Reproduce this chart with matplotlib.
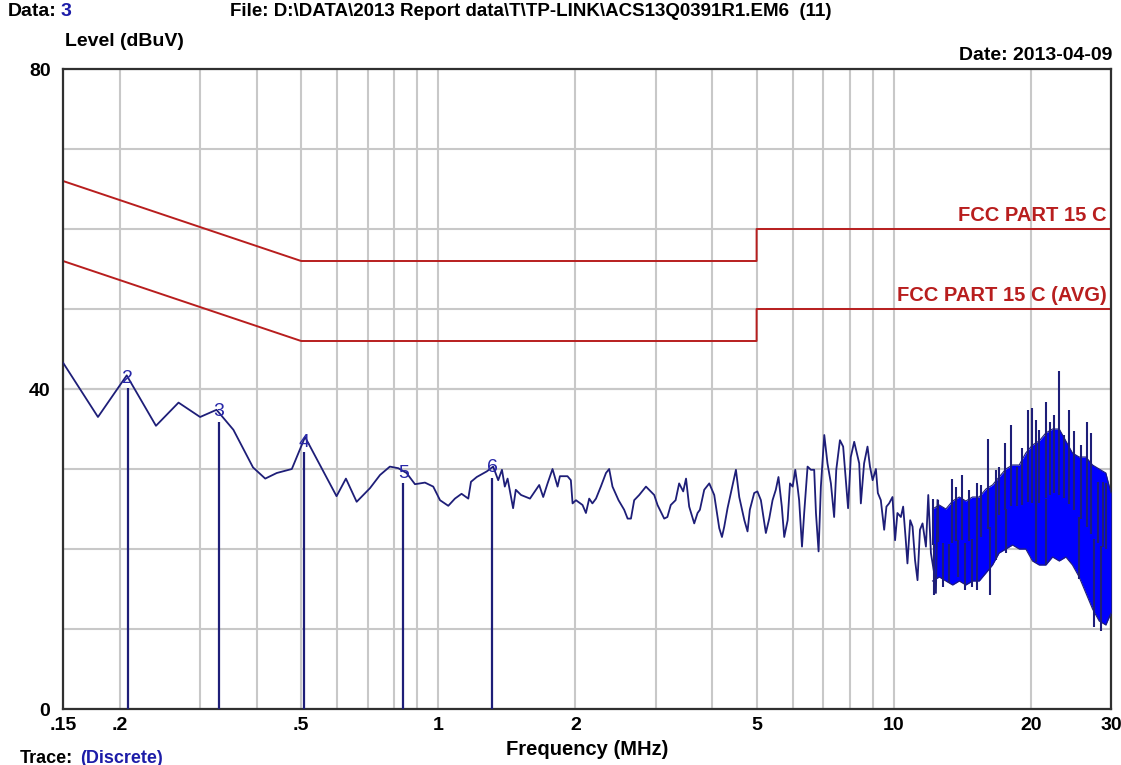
import numpy as np
import matplotlib
matplotlib.use('Agg')
import matplotlib.pyplot as plt

W, H = 1121, 765
plt.rcParams['font.family'] = ['Liberation Sans', 'DejaVu Sans']

# measured trace, 0.15 - 12.5 MHz (MHz, dBuV)
trace_freq = [0.150, 0.179, 0.207, 0.240, 0.269, 0.300, 0.326, 0.355, 0.392, 0.417,
              0.442, 0.477, 0.510, 0.598, 0.627, 0.662, 0.708, 0.745, 0.783, 0.817,
              0.852, 0.889, 0.935, 0.975, 1.009, 1.052, 1.088, 1.125, 1.164, 1.180,
              1.215, 1.278, 1.320, 1.354, 1.38, 1.40, 1.42, 1.46, 1.48, 1.52,
              1.59, 1.666, 1.70, 1.738, 1.782, 1.828, 1.85, 1.922, 1.955, 1.972,
              2.006, 2.074, 2.11, 2.145, 2.18, 2.22, 2.275, 2.335, 2.373, 2.413,
              2.488, 2.56, 2.605, 2.649, 2.693, 2.762, 2.858, 2.98, 3.03, 3.134,
              3.185, 3.24, 3.32, 3.38, 3.45, 3.50, 3.556, 3.648, 3.71, 3.754,
              3.837, 3.936, 4.036, 4.14, 4.197, 4.246, 4.317, 4.39, 4.504, 4.58,
              4.70, 4.776, 4.832, 4.94, 5.02, 5.11, 5.24, 5.33, 5.42, 5.51,
              5.585, 5.68, 5.75, 5.85, 5.92, 6.0, 6.08, 6.15, 6.20, 6.29,
              6.36, 6.47, 6.58, 6.69, 6.75, 6.84, 6.92, 7.04, 7.155, 7.28,
              7.40, 7.48, 7.62, 7.745, 7.85, 7.94, 8.05, 8.19, 8.30, 8.40,
              8.47, 8.61, 8.76, 8.87, 8.99, 9.14, 9.23, 9.37, 9.53, 9.64,
              9.77, 9.94, 10.07, 10.19, 10.37, 10.49, 10.63, 10.72, 10.87, 11.0,
              11.14, 11.28, 11.42, 11.57, 11.77, 11.91, 12.07, 12.27, 12.38, 12.48]
trace_level = [43.3, 36.5, 41.7, 35.4, 38.3, 36.5, 37.4, 34.9, 30.2, 28.8,
               29.5, 30.0, 34.0, 26.6, 28.8, 25.9, 27.6, 29.25, 30.3, 30.1,
               29.5, 28.1, 28.3, 27.8, 26.1, 25.4, 26.3, 26.9, 26.3, 28.4,
               29.0, 29.7, 30.3, 28.6, 29.9, 27.8, 28.8, 25.1, 27.4, 26.75,
               26.3, 28.0, 26.5, 28.2, 30.0, 27.8, 29.1, 29.1, 28.6, 25.7,
               26.1, 25.5, 24.5, 26.3, 25.7, 26.3, 27.8, 29.5, 30.0, 27.8,
               26.1, 24.9, 23.8, 23.8, 26.1, 26.75, 27.8, 26.75, 25.5, 23.8,
               24.0, 25.5, 26.1, 28.2, 27.2, 28.8, 25.3, 23.2, 24.5, 24.9,
               27.4, 28.2, 26.75, 22.6, 21.5, 22.8, 25.1, 27.0, 29.9, 26.5,
               23.6, 22.2, 24.9, 27.0, 27.2, 26.1, 22.0, 23.8, 26.1, 27.4,
               29.0, 25.3, 21.5, 23.6, 28.2, 27.8, 29.9, 27.8, 26.1, 20.3,
               24.5, 30.3, 29.9, 29.9, 24.5, 19.7, 27.8, 34.25, 30.7, 28.2,
               24.0, 29.9, 33.6, 32.8, 28.6, 25.1, 31.5, 33.4, 32.0, 30.7,
               25.7, 30.7, 32.8, 30.3, 28.6, 30.0, 27.0, 26.1, 22.4, 25.3,
               25.7, 26.5, 21.1, 24.5, 24.0, 25.3, 21.1, 18.2, 23.6, 22.8,
               18.6, 16.1, 22.4, 23.2, 20.3, 26.75, 19.5, 17.0, 14.5, 26.1]

# dense part above 12 MHz: envelope of the band
band_freq = [12.17, 12.59, 13.02, 13.47, 13.93, 14.40, 14.90, 15.41, 15.94, 16.48,
             17.04, 17.63, 18.23, 18.86, 19.50, 20.17, 20.86, 21.58, 22.32, 23.09,
             23.88, 24.69, 25.54, 26.42, 27.33, 28.26, 29.23, 30.0]
band_top = [25.0, 25.5, 25.0, 26.0, 26.5, 26.0, 26.5, 26.5, 27.5, 28.0,
            29.0, 30.0, 30.5, 30.5, 32.0, 33.0, 33.5, 34.5, 35.0, 35.0,
            33.5, 32.0, 31.5, 31.5, 30.5, 30.0, 29.5, 27.0]
band_bot = [16.0, 16.5, 16.0, 15.5, 16.0, 15.5, 16.0, 16.0, 17.0, 18.0,
            19.5, 20.0, 20.5, 20.0, 20.0, 18.5, 18.0, 18.0, 19.0, 18.5,
            19.0, 18.0, 16.5, 14.5, 12.5, 11.0, 10.5, 12.0]
spike_up_freq = [12.17, 12.48, 13.40, 13.69, 14.09, 14.65, 15.20, 15.54, 16.12, 16.76,
                 17.04, 17.54, 18.14, 18.64, 19.12, 19.67, 20.11, 20.52, 20.86, 21.65,
                 22.03, 22.51, 23.09, 23.6, 24.29, 24.82, 25.75, 26.56, 27.10, 28.03,
                 28.74, 29.23]
spike_up_level = [26.3, 26.1, 28.8, 27.8, 29.25, 27.4, 28.2, 28.0, 33.8, 29.9,
                  30.3, 33.2, 35.5, 30.3, 32.6, 37.4, 37.6, 36.1, 34.9, 38.4,
                  35.9, 36.75, 42.2, 34.3, 37.4, 34.7, 33.0, 35.9, 34.5, 28.4,
                  28.4, 28.2]
spike_dn_freq = [12.27, 12.80, 13.24, 13.81, 14.35, 14.85, 15.20, 16.26, 16.76, 17.63,
                 20.52, 21.58, 25.54, 27.55, 28.49]
spike_dn_level = [14.25, 15.3, 15.7, 16.5, 14.9, 15.3, 14.9, 14.25, 18.6, 19.5,
                  18.4, 18.0, 16.3, 10.3, 9.7]

# FCC part 15 C limits
limit_freq = [0.15, 0.5, 5, 5, 30]
limit_qp = [66, 56, 56, 60, 60]
limit_avg = [56, 46, 46, 50, 50]

# markers
marker_num = ['2', '3', '4', '5', '6']
marker_freq = [0.208, 0.330, 0.508, 0.838, 1.315]
marker_level = [40.1, 35.9, 32.1, 28.2, 28.9]

xtick_vals = [0.15, 0.2, 0.5, 1, 2, 5, 10, 20, 30]
xtick_labels = ['.15', '.2', '.5', '1', '2', '5', '10', '20', '30']
xgrid_minor = [0.3, 0.4, 0.6, 0.7, 0.8, 0.9, 3, 4, 6, 7, 8, 9]

navy = '#1e1e78'
red = '#b81e1e'

fig = plt.figure(figsize=(W / 100, H / 100), dpi=100)
ax = fig.add_axes([63 / W, 1 - 709 / H, (1111 - 63) / W, (709 - 69) / H])

ax.set_xscale('log')
ax.set_xlim(0.15, 30)
ax.set_ylim(0, 80)
ax.set_xticks(xtick_vals)
ax.set_xticklabels(xtick_labels)
ax.set_xticks(xgrid_minor, minor=True)
ax.set_xticklabels([], minor=True)
ax.set_yticks([0, 40, 80])
ax.set_yticks(np.arange(10, 80, 10), minor=True)
ax.yaxis.remove_overlapping_locs = False
ax.tick_params(which='both', length=0)
ax.tick_params(axis='x', pad=6)
ax.tick_params(axis='y', pad=9)
for lab in ax.get_xticklabels() + ax.get_yticklabels():
    lab.set_fontweight('bold')
    lab.set_fontsize(14)
ax.grid(True, which='both', color='#c8c8c8', lw=1.5)
ax.set_axisbelow(True)
for s in ax.spines.values():
    s.set_color('#303030')
    s.set_linewidth(1.6)

# limit lines
ax.plot(limit_freq, limit_qp, color=red, lw=1.4)
ax.plot(limit_freq, limit_avg, color=red, lw=1.4)
ax.annotate('FCC PART 15 C', (limit_freq[-1], limit_qp[-1]), xytext=(-3, 3),
            textcoords='offset points', ha='right', va='bottom', color=red,
            fontsize=14.5, fontweight='bold')
ax.annotate('FCC PART 15 C (AVG)', (limit_freq[-1], limit_avg[-1]), xytext=(-3, 3),
            textcoords='offset points', ha='right', va='bottom', color=red,
            fontsize=14.5, fontweight='bold')

# dense band: bright fill, spikes start from the middle of the band
bf = np.array(band_freq)
band_mid = (np.array(band_top) + np.array(band_bot)) / 2
ax.fill_between(bf, band_bot, band_top, color='#0000ff', lw=0, zorder=3)
ax.plot(bf, band_top, color=navy, lw=0.8, zorder=4)
ax.plot(bf, band_bot, color=navy, lw=0.8, zorder=4)
base_up = np.interp(np.log10(spike_up_freq), np.log10(bf), band_mid)
ax.vlines(spike_up_freq, base_up, spike_up_level, color=navy, lw=1.5, zorder=4)
base_dn = np.interp(np.log10(spike_dn_freq), np.log10(bf), band_mid)
ax.vlines(spike_dn_freq, spike_dn_level, base_dn, color=navy, lw=1.5, zorder=4)

# trace
ax.plot(trace_freq, trace_level, color=navy, lw=1.3, zorder=5)

# markers
ax.vlines(marker_freq, 0, marker_level, color=navy, lw=1.6, zorder=5)
for n, f, lv in zip(marker_num, marker_freq, marker_level):
    ax.annotate(n, (f, lv), xytext=(0, 1), textcoords='offset points',
                ha='center', va='bottom', color='#2828a8', fontsize=14, zorder=6)

ax.set_xlabel('Frequency (MHz)', fontsize=14.5, fontweight='bold', labelpad=4)

def fx(x, y):
    return x / W, 1 - y / H

fig.text(*fx(8, 12), 'Data:', fontsize=14, fontweight='bold', va='center')
fig.text(*fx(61, 12), '3', fontsize=14, fontweight='bold', va='center', color='#1c1ca8')
fig.text(*fx(230, 12), r'File: D:\DATA\2013 Report data\T\TP-LINK\ACS13Q0391R1.EM6  (11)',
         fontsize=13.5, fontweight='bold', va='center')
fig.text(*fx(65, 42), 'Level (dBuV)', fontsize=14, fontweight='bold', va='center')
fig.text(*fx(1112, 55), 'Date: 2013-04-09', fontsize=14, fontweight='bold', va='center', ha='right')
fig.text(*fx(20, 750), 'Trace:', fontsize=13, fontweight='bold', va='top')
fig.text(*fx(80, 750), '(Discrete)', fontsize=13, fontweight='bold', va='top', color='#1c1ca8')

fig.savefig('out.png', dpi=100)
